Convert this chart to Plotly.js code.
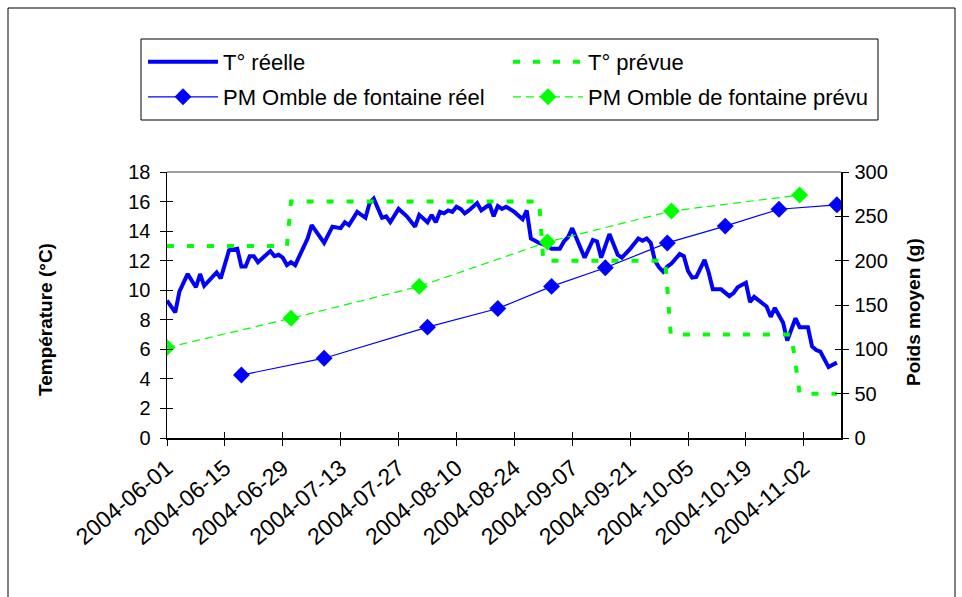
<!DOCTYPE html>
<html>
<head>
<meta charset="utf-8">
<script src="https://cdn.plot.ly/plotly-3.0.1.min.js"></script>
<style>html,body{margin:0;padding:0;background:#fff;}#chart{width:962px;height:597px;}</style>
</head>
<body>
<div id="chart"></div>
<script>
// T° réelle (°C)
const tempDates = ["2004-06-01","2004-06-03","2004-06-04","2004-06-06","2004-06-08","2004-06-09","2004-06-10","2004-06-13","2004-06-14","2004-06-16","2004-06-18","2004-06-19","2004-06-20","2004-06-21","2004-06-22","2004-06-23","2004-06-26","2004-06-27","2004-06-28","2004-06-29","2004-06-30","2004-07-01","2004-07-02","2004-07-04","2004-07-05","2004-07-06","2004-07-09","2004-07-11","2004-07-13","2004-07-14","2004-07-15","2004-07-17","2004-07-19","2004-07-20","2004-07-21","2004-07-23","2004-07-24","2004-07-25","2004-07-27","2004-07-29","2004-07-31","2004-08-01","2004-08-03","2004-08-04","2004-08-05","2004-08-06","2004-08-07","2004-08-08","2004-08-09","2004-08-10","2004-08-11","2004-08-12","2004-08-13","2004-08-15","2004-08-16","2004-08-18","2004-08-19","2004-08-20","2004-08-21","2004-08-22","2004-08-23","2004-08-24","2004-08-26","2004-08-27","2004-08-28","2004-08-30","2004-09-01","2004-09-02","2004-09-04","2004-09-05","2004-09-06","2004-09-07","2004-09-10","2004-09-12","2004-09-13","2004-09-14","2004-09-16","2004-09-18","2004-09-19","2004-09-21","2004-09-23","2004-09-24","2004-09-25","2004-09-26","2004-09-27","2004-09-28","2004-09-29","2004-09-30","2004-10-01","2004-10-03","2004-10-04","2004-10-05","2004-10-06","2004-10-07","2004-10-09","2004-10-10","2004-10-11","2004-10-13","2004-10-15","2004-10-16","2004-10-17","2004-10-19","2004-10-20","2004-10-21","2004-10-24","2004-10-25","2004-10-26","2004-10-28","2004-10-29","2004-10-30","2004-10-31","2004-11-01","2004-11-03","2004-11-04","2004-11-05","2004-11-06","2004-11-08","2004-11-09","2004-11-10"];
const tempReal = [9.3,8.5,9.9,11.1,10.2,11.1,10.3,11.2,10.8,12.7,12.8,11.6,11.6,12.3,12.3,11.9,12.65,12.3,12.4,12.2,11.7,11.9,11.7,13.0,13.5,14.4,13.2,14.3,14.2,14.6,14.4,15.3,14.9,15.9,16.2,14.9,15.0,14.6,15.5,15.0,14.3,15.1,14.6,15.1,14.6,15.3,15.2,15.4,15.3,15.65,15.5,15.2,15.4,15.9,15.4,15.8,15.0,15.7,15.5,15.65,15.5,15.3,14.8,15.4,13.5,13.2,13.0,12.8,12.8,13.3,13.6,14.2,12.2,13.4,13.3,12.2,13.8,12.4,12.2,12.8,13.5,13.35,13.5,13.2,12.0,11.55,11.25,11.6,11.8,12.45,12.3,11.3,10.85,10.9,12.05,11.2,10.06,10.06,9.6,9.8,10.2,10.5,9.2,9.55,8.9,8.2,8.8,7.8,6.6,7.4,8.1,7.5,7.5,6.2,5.95,5.85,4.8,4.95,5.1];

// T° prévue (°C)
const planDates = ["2004-06-01","2004-06-30","2004-07-01","2004-08-30","2004-08-31","2004-09-29T12:00","2004-09-30T20:00","2004-10-30","2004-11-01","2004-11-10"];
const tempPlan = [13,13,16,16,12,12,7,7,3,3];

// PM Omble de fontaine réel (g)
const pmRealDates = ["2004-06-19","2004-07-09","2004-08-03","2004-08-20","2004-09-02","2004-09-15","2004-09-30","2004-10-14","2004-10-27","2004-11-10"];
const pmReal = [71,90,125,146,171,192,220,239,258,263];

// PM Omble de fontaine prévu (g)
const pmPlanDates = ["2004-06-01","2004-07-01","2004-08-01","2004-09-01","2004-10-01","2004-11-01"];
const pmPlan = [102,135,171,221,256,274];

const FONT = "Liberation Sans, Arial, sans-serif";
const BLUE = "#0000FF";
const GREEN = "#00FF00";

// plot area in pixels
const L = 167, R = 841, T = 172, B = 438, W = 962, H = 597;
const pw = R - L, ph = B - T;
const px = v => (v - L) / pw;
const py = v => (B - v) / ph;

const traces = [
  {x: tempDates, y: tempReal, name: "T° réelle", type: "scatter", mode: "lines",
   line: {color: BLUE, width: 4}, xaxis: "x", yaxis: "y", legend: "legend"},
  {x: planDates, y: tempPlan, name: "T° prévue", type: "scatter", mode: "lines",
   line: {color: GREEN, width: 4, dash: "7px,13px"}, xaxis: "x", yaxis: "y", legend: "legend"},
  {x: pmRealDates, y: pmReal, name: "PM Omble de fontaine réel", type: "scatter", mode: "lines+markers",
   line: {color: BLUE, width: 1.2}, marker: {symbol: "diamond", size: 13, color: BLUE},
   xaxis: "x", yaxis: "y2", legend: "legend2"},
  {x: pmPlanDates, y: pmPlan, name: "PM Omble de fontaine prévu", type: "scatter", mode: "lines+markers",
   line: {color: GREEN, width: 1.2, dash: "8px,5px"}, marker: {symbol: "diamond", size: 13, color: GREEN},
   xaxis: "x", yaxis: "y2", legend: "legend2"},
  {x: [], y: [], xaxis: "x2", yaxis: "y3", showlegend: false, hoverinfo: "skip"},
  {x: [], y: [], xaxis: "x2", yaxis: "y4", showlegend: false, hoverinfo: "skip"}
];

const xRange = ["2004-06-01", "2004-11-11"];
const tickFont = {family: FONT, size: 20, color: "#000"};
const xTickFont = {family: FONT, size: 23, color: "#000"};
const titleFont = {family: FONT, size: 19, color: "#000"};
const legendFont = {family: FONT, size: 22, color: "#000"};

const layout = {
  width: W, height: H,
  margin: {l: L, r: W - R, t: T, b: H - B, pad: 0},
  paper_bgcolor: "#fff", plot_bgcolor: "#fff",
  font: {family: FONT, size: 20, color: "#000"},
  showlegend: true,
  xaxis: {type: "date", range: xRange, tick0: "2004-06-01", dtick: 14 * 86400000,
    tickformat: "%Y-%m-%d", tickangle: -40, ticks: "outside", ticklen: 6, tickcolor: "#000",
    showline: true, linecolor: "#000", linewidth: 1.5, showgrid: false, zeroline: false,
    tickfont: xTickFont, automargin: false, fixedrange: true},
  xaxis2: {type: "date", range: xRange, tick0: "2004-06-01", dtick: 14 * 86400000, matches: "x",
    overlaying: "x", anchor: "y", side: "bottom", ticks: "inside", ticklen: 6, tickcolor: "#000",
    showticklabels: false, showline: false, showgrid: false, zeroline: false},
  yaxis: {range: [0, 18], dtick: 2, ticks: "outside", ticklen: 6, tickcolor: "#000",
    showline: true, linecolor: "#000", linewidth: 1.5, showgrid: false, zeroline: false,
    tickfont: tickFont, automargin: false, ticklabelstandoff: 5},
  yaxis2: {range: [0, 300], dtick: 50, overlaying: "y", side: "right", anchor: "x",
    ticks: "outside", ticklen: 6, tickcolor: "#000",
    showline: true, linecolor: "#000", linewidth: 1.5, showgrid: false, zeroline: false,
    tickfont: tickFont, automargin: false, ticklabelstandoff: 2},
  yaxis3: {range: [0, 18], dtick: 2, overlaying: "y", anchor: "x2", side: "left", matches: "y",
    ticks: "inside", ticklen: 6, tickcolor: "#000", showticklabels: false, showline: false,
    showgrid: false, zeroline: false},
  yaxis4: {range: [0, 300], dtick: 50, overlaying: "y", anchor: "x2", side: "right", matches: "y2",
    ticks: "inside", ticklen: 6, tickcolor: "#000", showticklabels: false, showline: false,
    showgrid: false, zeroline: false},
  annotations: [
    {text: "<b>Température (°C)</b>", xref: "paper", yref: "paper", x: px(45), y: py(320),
     xanchor: "center", yanchor: "middle", textangle: -90, showarrow: false, font: titleFont},
    {text: "<b>Poids moyen (g)</b>", xref: "paper", yref: "paper", x: px(913), y: py(312),
     xanchor: "center", yanchor: "middle", textangle: -90, showarrow: false, font: titleFont}
  ],
  legend: {orientation: "h", x: px(143), y: py(41), xanchor: "left", yanchor: "top",
    font: legendFont, bgcolor: "rgba(0,0,0,0)", borderwidth: 0,
    itemwidth: 70, entrywidth: 280, entrywidthmode: "pixels", itemclick: false},
  legend2: {orientation: "h", x: px(143), y: py(76), xanchor: "left", yanchor: "top",
    font: legendFont, bgcolor: "rgba(0,0,0,0)", borderwidth: 0,
    itemwidth: 70, entrywidth: 280, entrywidthmode: "pixels", itemclick: false},
  shapes: [
    {type: "rect", xref: "paper", yref: "paper", x0: px(8), x1: px(955), y0: py(620), y1: py(8),
     line: {color: "#000", width: 1}, layer: "below"},
    {type: "rect", xref: "paper", yref: "paper", x0: px(141), x1: px(878), y0: py(120), y1: py(39),
     line: {color: "#000", width: 1}, layer: "below"},
    {type: "line", xref: "paper", yref: "paper", x0: 0, x1: 1, y0: 1, y1: 1,
     line: {color: "#808080", width: 1.5}, layer: "below"}
  ]
};

Plotly.newPlot("chart", traces, layout, {staticPlot: true, displayModeBar: false});
</script>
</body>
</html>
